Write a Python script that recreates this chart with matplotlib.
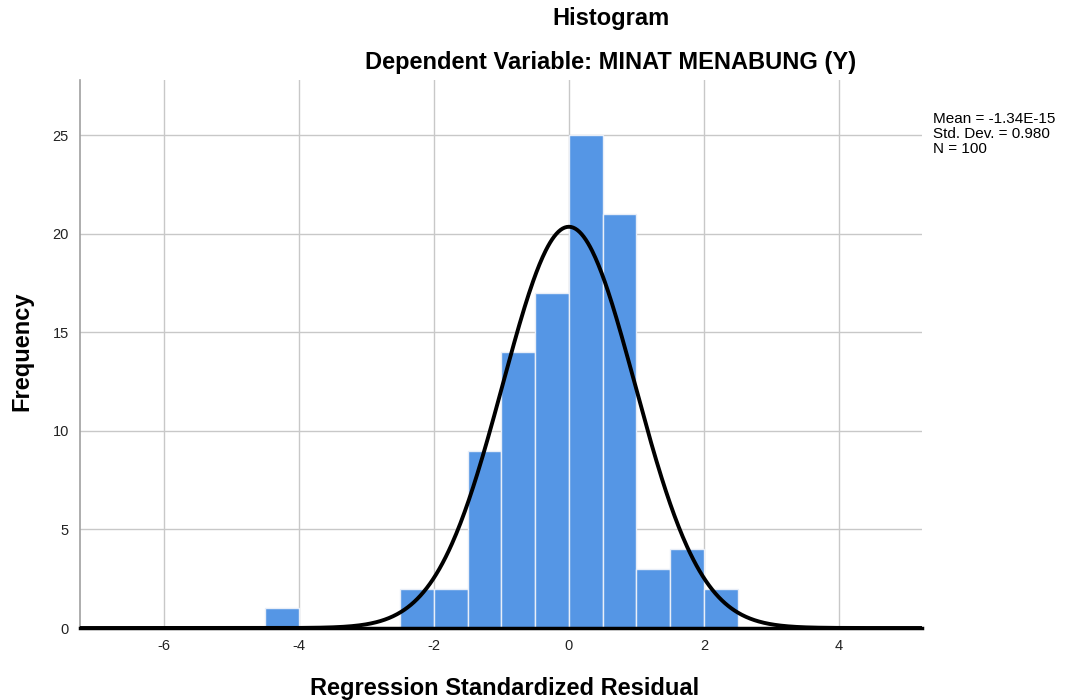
import numpy as np
import matplotlib
matplotlib.use("Agg")
import matplotlib.pyplot as plt

plt.rcParams['font.family'] = ['Liberation Sans', 'DejaVu Sans']
plt.rcParams['axes.unicode_minus'] = False

# Histogram bins of the standardized residuals (bin width 0.5)
bin_lefts = [-4.5, -2.5, -2.0, -1.5, -1.0, -0.5, 0.0, 0.5, 1.0, 1.5, 2.0]
frequencies = [1, 2, 2, 9, 14, 17, 25, 21, 3, 4, 2]
bin_width = 0.5

mean_val = -1.34e-15
std_val = 0.980
n_obs = 100

x_ticks = [-6, -4, -2, 0, 2, 4]
y_ticks = [0, 5, 10, 15, 20, 25]

fig = plt.figure(figsize=(10.69, 7.0), dpi=100)
ax = fig.add_axes([80 / 1069, 1 - 628 / 700, (922 - 80) / 1069, (628 - 80) / 700])

ax.set_xlim(-7.24, 5.23)
ax.set_ylim(0, 27.8)

ax.bar(bin_lefts, frequencies, width=bin_width, align='edge',
       color='#5596E5', edgecolor='#e8eef8', linewidth=1.0, zorder=2)

# Normal curve scaled to counts
xs = np.linspace(-7.24, 5.23, 800)
pdf = np.exp(-0.5 * ((xs - mean_val) / std_val) ** 2) / (std_val * np.sqrt(2 * np.pi))
ax.plot(xs, n_obs * bin_width * pdf, color='black', linewidth=2.8, zorder=4)

ax.set_xticks(x_ticks)
ax.set_yticks(y_ticks)
ax.tick_params(axis='both', length=0, labelsize=10.5, colors='#222222')
ax.tick_params(axis='x', pad=8)
ax.tick_params(axis='y', pad=8)
ax.grid(True, color='#c8c8c8', linewidth=1.0, zorder=0)
ax.set_axisbelow(True)

for side in ['top', 'right']:
    ax.spines[side].set_visible(False)
ax.spines['left'].set_color('#a0a0a0')
ax.spines['left'].set_linewidth(1.2)
ax.spines['bottom'].set_color('black')
ax.spines['bottom'].set_linewidth(2.5)
ax.spines['bottom'].set_zorder(5)

fig.text(22 / 1069, 1 - 351 / 700, 'Frequency', rotation=90, fontsize=17,
         fontweight='bold', ha='center', va='center')
fig.text(505 / 1069, 1 - 688 / 700, 'Regression Standardized Residual', fontsize=17,
         fontweight='bold', ha='center', va='center')

fig.text(611 / 1069, 1 - 18 / 700, 'Histogram', fontsize=17,
         fontweight='bold', ha='center', va='center')
fig.text(611 / 1069, 1 - 62 / 700, 'Dependent Variable: MINAT MENABUNG (Y)', fontsize=17,
         fontweight='bold', ha='center', va='center')

stats = f"Mean = {mean_val:.2E}\nStd. Dev. = {std_val:.3f}\nN = {n_obs}"
fig.text(933 / 1069, 1 - 112 / 700, stats, fontsize=11, ha='left', va='top',
         linespacing=1.1)

fig.savefig('out.png', dpi=100)
